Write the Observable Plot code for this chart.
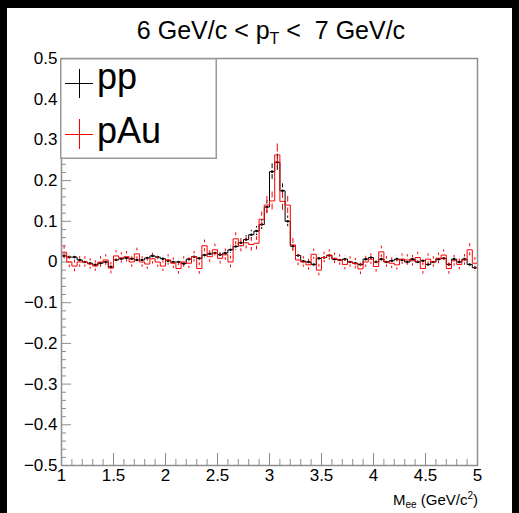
<!DOCTYPE html>
<html>
<head>
<meta charset="utf-8">
<script src="https://cdn.jsdelivr.net/npm/d3@7"></script>
<script src="https://cdn.jsdelivr.net/npm/@observablehq/plot@0.6"></script>
<style>
html, body { margin: 0; padding: 0; background: #000; }
body { width: 519px; height: 513px; overflow: hidden; position: relative; font-family: "Liberation Sans", Arial, Helvetica, sans-serif; color: #000; }
#chart { position: absolute; left: 7px; top: 8px; width: 505px; height: 505px; }
#title { position: absolute; left: 7px; top: 18px; width: 528px; text-align: center; font-size: 25px; line-height: 25px; white-space: pre; }
#title .sub { font-size: 16px; vertical-align: -5px; line-height: 0; }
#xlabel { position: absolute; right: 41px; top: 492px; font-size: 15px; line-height: 15px; white-space: pre; }
#xlabel .sub { font-size: 10px; vertical-align: -3px; line-height: 0; }
#xlabel .sup { font-size: 10px; vertical-align: 6px; line-height: 0; }
#legend { position: absolute; left: 60px; top: 58px; width: 157px; height: 101px; background: #fff; box-shadow: inset 0 0 0 1.5px #999; }
#legend .txt { position: absolute; font-size: 36px; line-height: 36px; white-space: pre; }
#legend .ln { position: absolute; }
</style>
</head>
<body>
<div id="chart"></div>
<div id="title">6 GeV/c &lt; p<span class="sub">T</span> &lt;  7 GeV/c</div>
<div id="xlabel">M<span class="sub">ee</span> (GeV/c<span class="sup">2</span>)</div>
<div id="legend">
  <div class="ln" style="left:5px;top:25px;width:28px;height:1px;background:#000"></div>
  <div class="ln" style="left:19px;top:11px;width:1px;height:29px;background:#000"></div>
  <div class="txt" style="left:37px;top:1px">pp</div>
  <div class="ln" style="left:5px;top:76px;width:28px;height:1px;background:#f00"></div>
  <div class="ln" style="left:19px;top:61px;width:1px;height:30px;background:#f00"></div>
  <div class="txt" style="left:37px;top:55px">pAu</div>
</div>
<script>
// ---- data (80 bins, 1.00 - 5.00 GeV/c^2, width 0.05) ----
const massMin = 1, massMax = 5, binWidth = 0.05;
const series = ["pp", "pAu"];

const ppVal = [
  0.015, 0.012, 0.012, 0.005, 0.000, -0.003, -0.007, -0.003, 0.000, -0.012,
  0.005, 0.008, 0.010, 0.008, 0.005, 0.005, 0.010, 0.015, 0.012, 0.008,
  0.003, 0.000, 0.000, -0.004, 0.007, 0.013, 0.009, 0.017, 0.020, 0.022,
  0.018, 0.022, 0.030, 0.038, 0.047, 0.055, 0.067, 0.076, 0.092, 0.135,
  0.222, 0.245, 0.175, 0.100, 0.039, 0.016, 0.002, 0.000, -0.006, 0.009,
  0.011, 0.016, 0.007, 0.005, 0.007, 0.000, -0.003, -0.006, 0.007, 0.011,
  0.000, 0.007, 0.000, 0.003, 0.007, 0.005, 0.000, 0.007, 0.000, 0.003,
  -0.006, 0.000, 0.007, 0.009, -0.006, 0.007, 0.000, 0.007, -0.006, -0.014
];
const ppErr = [
  0.008, 0.007, 0.007, 0.007, 0.007, 0.007, 0.007, 0.007, 0.007, 0.007,
  0.007, 0.007, 0.007, 0.007, 0.007, 0.007, 0.007, 0.007, 0.007, 0.007,
  0.007, 0.007, 0.007, 0.007, 0.007, 0.007, 0.007, 0.008, 0.008, 0.008,
  0.008, 0.008, 0.009, 0.009, 0.010, 0.010, 0.011, 0.011, 0.012, 0.015,
  0.019, 0.020, 0.017, 0.013, 0.010, 0.008, 0.007, 0.007, 0.007, 0.007,
  0.007, 0.007, 0.007, 0.007, 0.007, 0.007, 0.007, 0.007, 0.007, 0.007,
  0.007, 0.007, 0.007, 0.007, 0.007, 0.007, 0.007, 0.007, 0.007, 0.007,
  0.007, 0.007, 0.007, 0.007, 0.007, 0.007, 0.007, 0.007, 0.007, 0.008
];
const pAuVal = [
  0.024, 0.000, -0.010, 0.000, 0.000, -0.005, -0.010, 0.000, 0.005, -0.015,
  0.015, 0.010, 0.013, 0.000, 0.020, 0.000, -0.005, 0.008, 0.000, -0.010,
  0.005, -0.003, -0.016, 0.000, -0.003, 0.013, -0.016, 0.040, 0.013, 0.030,
  0.009, 0.018, 0.000, 0.057, 0.040, 0.047, 0.043, 0.046, 0.105, 0.140,
  0.150, 0.263, 0.149, 0.140, 0.042, 0.005, 0.000, -0.007, 0.019, -0.020,
  0.011, 0.017, 0.009, 0.005, -0.006, 0.000, -0.004, -0.017, 0.000, 0.007,
  -0.011, 0.025, 0.000, -0.003, -0.007, 0.007, 0.005, 0.003, 0.011, -0.016,
  0.007, 0.000, 0.009, 0.017, -0.016, 0.003, -0.006, 0.005, 0.030, -0.003
];
const pAuErr = [
  0.016, 0.014, 0.014, 0.013, 0.013, 0.013, 0.013, 0.013, 0.013, 0.014,
  0.013, 0.013, 0.013, 0.013, 0.014, 0.013, 0.013, 0.013, 0.013, 0.013,
  0.013, 0.013, 0.014, 0.013, 0.013, 0.013, 0.014, 0.014, 0.014, 0.014,
  0.014, 0.014, 0.014, 0.015, 0.015, 0.015, 0.016, 0.016, 0.018, 0.021,
  0.022, 0.027, 0.022, 0.021, 0.016, 0.014, 0.013, 0.013, 0.013, 0.014,
  0.013, 0.013, 0.013, 0.013, 0.013, 0.013, 0.013, 0.014, 0.013, 0.013,
  0.014, 0.014, 0.013, 0.013, 0.013, 0.013, 0.013, 0.013, 0.013, 0.014,
  0.013, 0.013, 0.013, 0.013, 0.014, 0.013, 0.013, 0.013, 0.015, 0.014
];

const xTickValues = [1, 1.5, 2, 2.5, 3, 3.5, 4, 4.5, 5];
const yTickValues = [-0.5, -0.4, -0.3, -0.2, -0.1, 0, 0.1, 0.2, 0.3, 0.4, 0.5];

// ---- build tables ----
const bins = ppVal.map((v, i) => ({
  lo: massMin + i * binWidth,
  c: massMin + (i + 0.5) * binWidth,
  pp: v, ppE: ppErr[i], pAu: pAuVal[i], pAuE: pAuErr[i]
}));
const steps = bins.concat([{ lo: massMax, pp: ppVal[ppVal.length - 1], pAu: pAuVal[pAuVal.length - 1] }]);

const xMinor = d3.range(0, 41).map(k => massMin + k * 0.1).filter(v => !xTickValues.some(t => Math.abs(t - v) < 1e-9));
const yMinor = d3.range(0, 51).map(k => -0.5 + k * 0.02).filter(v => !yTickValues.some(t => Math.abs(t - v) < 1e-9));

// ---- layout ----
const W = 505, H = 505;
const mL = 54, mR = 35, mT = 50, mB = 48;
const innerW = W - mL - mR, innerH = H - mT - mB;
const gap = 3 / innerH; // error bar gap around marker (3 px)
const axisGray = "#8e8e8e";

const fmtY = d => d === 0 ? "0" : d3.format(".1f")(d);

const chart = Plot.plot({
  width: W, height: H,
  marginLeft: mL, marginRight: mR, marginTop: mT, marginBottom: mB,
  x: { domain: [massMin, massMax] },
  y: { domain: [-0.5, 0.5] },
  style: { background: "#fff", color: "#000", fontFamily: "'Liberation Sans', Arial, Helvetica, sans-serif", fontSize: "17px", overflow: "visible" },
  marks: [
    // y ticks (inward)
    Plot.tickY(yTickValues, { y: d => d, stroke: axisGray, insetRight: innerW - 10 }),
    Plot.tickY(yMinor, { y: d => d, stroke: axisGray, insetRight: innerW - 5 }),
    // x ticks (inward)
    Plot.tickX(xTickValues, { x: d => d, stroke: axisGray, insetTop: innerH - 12 }),
    Plot.tickX(xMinor, { x: d => d, stroke: axisGray, insetTop: innerH - 6 }),
    Plot.axisY(yTickValues, { tickSize: 0, tickPadding: 4, tickFormat: fmtY, label: null, fontSize: 17 }),
    Plot.axisX(xTickValues, { tickSize: 0, tickPadding: 3, tickFormat: d => String(d), label: null, fontSize: 17 }),
    // pp (black)
    Plot.line(steps, { x: "lo", y: "pp", curve: "step-after", stroke: "#000", strokeWidth: 1 }),
    Plot.ruleX(bins, { x: "c", y1: d => d.pp + gap, y2: d => d.pp + d.ppE, stroke: "#000", strokeWidth: 1 }),
    Plot.ruleX(bins, { x: "c", y1: d => d.pp - d.ppE, y2: d => d.pp - gap, stroke: "#000", strokeWidth: 1 }),
    Plot.dot(bins, { x: "c", y: "pp", r: 1.3, fill: "#000", stroke: null }),
    // pAu (red)
    Plot.line(steps, { x: "lo", y: "pAu", curve: "step-after", stroke: "#ff0000", strokeWidth: 1 }),
    Plot.ruleX(bins, { x: "c", y1: d => d.pAu + gap, y2: d => d.pAu + d.pAuE, stroke: "#ff0000", strokeWidth: 1 }),
    Plot.ruleX(bins, { x: "c", y1: d => d.pAu - d.pAuE, y2: d => d.pAu - gap, stroke: "#ff0000", strokeWidth: 1 }),
    Plot.frame({ stroke: axisGray, strokeWidth: 1.5 })
  ]
});
document.getElementById("chart").appendChild(chart);
</script>
</body>
</html>
